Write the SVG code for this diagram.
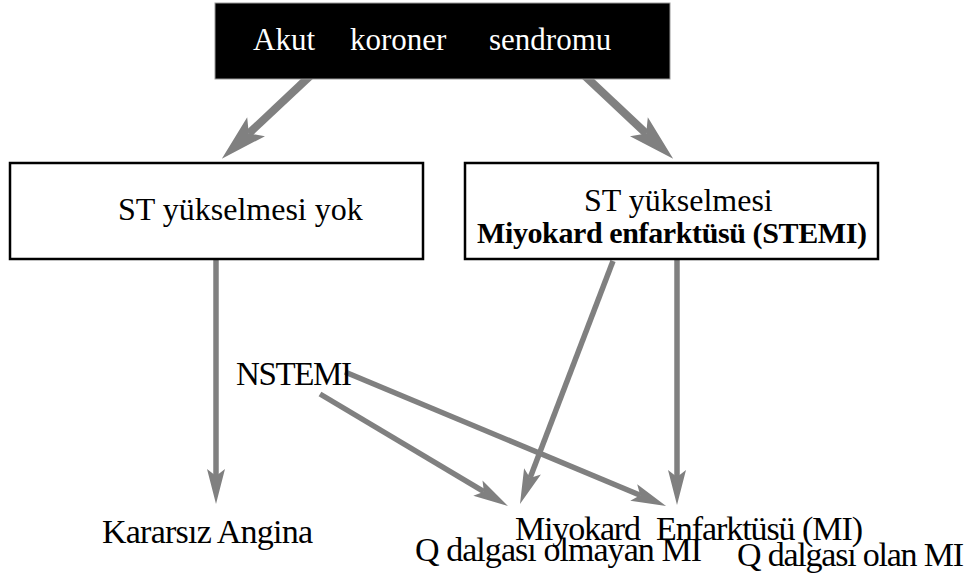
<svg xmlns="http://www.w3.org/2000/svg" width="971" height="575" viewBox="0 0 971 575">
<style>
  text { font-family: "Liberation Serif", "Times New Roman", serif; fill: #000; }
  .big { font-size: 32px; }
  .low { font-size: 34px; }
  .bold { font-size: 30px; font-weight: bold; }
  .box { fill: #fff; stroke: #000; stroke-width: 2.5; }
  .thick { stroke: #808080; stroke-width: 8; fill: none; marker-end: url(#headBig); }
  .thin { stroke: #808080; stroke-width: 5.5; fill: none; marker-end: url(#headSmall); }
</style>
<defs>
  <marker id="headBig" markerUnits="userSpaceOnUse" orient="auto" refX="0" refY="0" markerWidth="60" markerHeight="40" overflow="visible">
    <path d="M-10,-13 L37,0 L-10,13 L0,0 Z" fill="#808080"/>
  </marker>
  <marker id="headSmall" markerUnits="userSpaceOnUse" orient="auto" refX="0" refY="0" markerWidth="50" markerHeight="30" overflow="visible">
    <path d="M-7,-9 L28,0 L-7,9 L0,0 Z" fill="#808080"/>
  </marker>
</defs>

<g id="connectors">
  <line class="thick" x1="310" y1="76" x2="248.8" y2="133.5"/>
  <line class="thick" x1="585" y1="76" x2="646.2" y2="133.5"/>
  <line class="thin" x1="216" y1="259" x2="216" y2="476"/>
  <line class="thin" x1="677" y1="259" x2="677" y2="477"/>
  <line class="thin" x1="613" y1="261" x2="530" y2="477.9"/>
  <line class="thin" x1="320" y1="394" x2="483.9" y2="491.7"/>
  <line class="thin" x1="345" y1="372" x2="640.2" y2="495.2"/>
</g>

<g id="acs">
  <rect x="215" y="3" width="455" height="76" fill="#000" stroke="#999" stroke-width="1"/>
  <text y="50" style="fill:#fff;font-size:31px"><tspan x="253">Akut</tspan><tspan x="350">koroner</tspan><tspan x="489">sendromu</tspan></text>
</g>

<g id="no-st">
  <rect class="box" x="10" y="163" width="413" height="96"/>
  <text class="big" x="118" y="220">ST yükselmesi yok</text>
</g>

<g id="stemi">
  <rect class="box" x="465" y="163" width="413" height="96"/>
  <text class="big" x="584" y="211">ST yükselmesi</text>
  <text class="bold" x="477" y="243" textLength="390">Miyokard enfarktüsü (STEMI)</text>
</g>

<g id="nstemi">
  <text x="236" y="385" style="font-size:33px" textLength="116">NSTEMI</text>
</g>

<g id="unstable-angina">
  <text class="low" x="102" y="543" textLength="211">Kararsız Angina</text>
</g>

<g id="mi">
  <text class="low" y="540"><tspan x="515" textLength="126">Miyokard</tspan><tspan x="656" textLength="207">Enfarktüsü (MI)</tspan></text>
</g>

<g id="non-q-mi">
  <text class="low" x="415" y="561" textLength="287">Q dalgası olmayan MI</text>
</g>

<g id="q-mi">
  <text class="low" x="737" y="566" textLength="227">Q dalgası olan MI</text>
</g>
</svg>
